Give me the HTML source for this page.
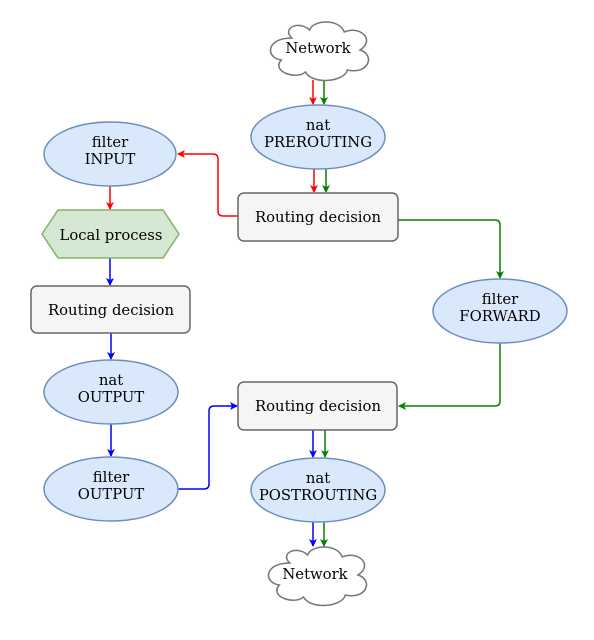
<!DOCTYPE html>
<html><head><meta charset="utf-8"><style>
html,body{margin:0;padding:0;background:#fff;}
text{font-family:"DejaVu Serif",serif;font-size:14.8px;fill:#000;text-anchor:middle;}
</style></head><body>
<svg width="594" height="635" xmlns="http://www.w3.org/2000/svg">
<defs>
<marker id="ar" markerWidth="8" markerHeight="8" refX="7" refY="4" orient="auto" markerUnits="userSpaceOnUse"><path d="M0,0 L8,4 L0,8 L2,4 Z" fill="red"/></marker>
<marker id="ag" markerWidth="8" markerHeight="8" refX="7" refY="4" orient="auto" markerUnits="userSpaceOnUse"><path d="M0,0 L8,4 L0,8 L2,4 Z" fill="green"/></marker>
<marker id="ab" markerWidth="8" markerHeight="8" refX="7" refY="4" orient="auto" markerUnits="userSpaceOnUse"><path d="M0,0 L8,4 L0,8 L2,4 Z" fill="blue"/></marker>
<g id="cloud"><path d="M-25,-12 C-50,-12 -50,8 -35,10 C-45,22 -20,30 -12,22 C-5,35 25,32 28,20 C48,25 55,5 40,0 C55,-10 40,-25 25,-18 C20,-32 -5,-30 -8,-20 C-18,-30 -35,-22 -25,-12 Z" fill="#fff" stroke="#777" stroke-width="1.5"/></g>
</defs>
<g fill="none" stroke-width="1.5">
<path d="M313,80 V104" stroke="red" marker-end="url(#ar)"/>
<path d="M324,80 V104" stroke="green" marker-end="url(#ag)"/>
<path d="M314,169 V192" stroke="red" marker-end="url(#ar)"/>
<path d="M326,169 V192" stroke="green" marker-end="url(#ag)"/>
<path d="M238,216 H223 Q218,216 218,211 V159 Q218,154 213,154 H178" stroke="red" marker-end="url(#ar)"/>
<path d="M110,186 V209" stroke="red" marker-end="url(#ar)"/>
<path d="M110,258 V285" stroke="blue" marker-end="url(#ab)"/>
<path d="M111,333 V359" stroke="blue" marker-end="url(#ab)"/>
<path d="M111,424 V456" stroke="blue" marker-end="url(#ab)"/>
<path d="M178,489 H204 Q209,489 209,484 V411 Q209,406 214,406 H237" stroke="blue" marker-end="url(#ab)"/>
<path d="M398,220 H495 Q500,220 500,225 V278" stroke="green" marker-end="url(#ag)"/>
<path d="M500,343 V401 Q500,406 495,406 H399" stroke="green" marker-end="url(#ag)"/>
<path d="M313,430 V457" stroke="blue" marker-end="url(#ab)"/>
<path d="M325,430 V457" stroke="green" marker-end="url(#ag)"/>
<path d="M313,522 V546" stroke="blue" marker-end="url(#ab)"/>
<path d="M324,522 V546" stroke="green" marker-end="url(#ag)"/>
</g>
<use href="#cloud" transform="translate(318,50) scale(1.05,1.0)"/>
<text x="318" y="53">Network</text>
<use href="#cloud" transform="translate(316,575) scale(1.05,1.0)"/>
<text x="315" y="579">Network</text>
<g fill="#dae8fc" stroke="#6c8ebf" stroke-width="1.5">
<ellipse cx="318" cy="137" rx="67" ry="32"/>
<ellipse cx="110" cy="154" rx="66" ry="32"/>
<ellipse cx="111" cy="392" rx="67" ry="32"/>
<ellipse cx="111" cy="489" rx="67" ry="32"/>
<ellipse cx="500" cy="311" rx="67" ry="32"/>
<ellipse cx="318" cy="490" rx="67" ry="32"/>
</g>
<polygon points="42,234 58,210 163,210 179,234 163,258 58,258" fill="#d5e8d4" stroke="#82b366" stroke-width="1.5"/>
<g fill="#f5f5f5" stroke="#666" stroke-width="1.5">
<rect x="238" y="193" width="160" height="48" rx="6"/>
<rect x="31" y="286" width="159" height="47" rx="6"/>
<rect x="238" y="382" width="159" height="48" rx="6"/>
</g>
<text x="318" y="130">nat</text><text x="318" y="147">PREROUTING</text>
<text x="110" y="147">filter</text><text x="110" y="164">INPUT</text>
<text x="111" y="385">nat</text><text x="111" y="402">OUTPUT</text>
<text x="111" y="482">filter</text><text x="111" y="499">OUTPUT</text>
<text x="500" y="304">filter</text><text x="500" y="321">FORWARD</text>
<text x="318" y="483">nat</text><text x="318" y="500">POSTROUTING</text>
<text x="111" y="240">Local process</text>
<text x="318" y="222">Routing decision</text>
<text x="111" y="315">Routing decision</text>
<text x="318" y="411">Routing decision</text>
</svg>
</body></html>
